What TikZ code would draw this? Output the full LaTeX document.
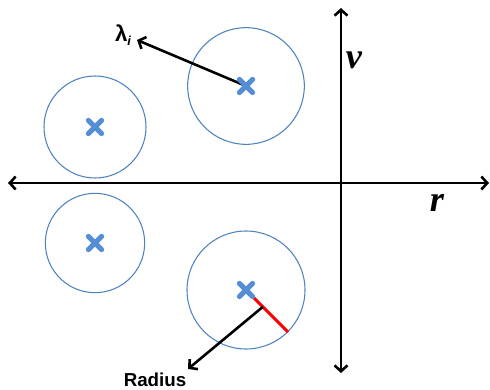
\documentclass[tikz,border=0pt]{standalone}
\usepackage{fontspec}
\setmainfont{Liberation Serif}
\setsansfont{Liberation Sans}
\usetikzlibrary{arrows.meta,shapes.misc,calc}

\definecolor{ringblue}{RGB}{79,129,189}
\definecolor{markblue}{RGB}{85,142,213}

\tikzset{
  ring/.style={circle, draw=ringblue, line width=0.9pt, inner sep=0pt},
  centremark/.style={cross out, draw=markblue, line width=4.4pt, line cap=round, minimum size=0.24cm, inner sep=0pt},
  axis/.style={line width=2.2pt, {Straight Barb[length=5pt,width=11pt]}-{Straight Barb[length=5pt,width=11pt]}},
  pointer/.style={line width=2.2pt, -{Straight Barb[length=5pt,width=11pt]}},
  axislabel/.style={font=\fontsize{31}{31}\selectfont\bfseries\itshape},
  tag/.style={font=\sffamily\bfseries\fontsize{16}{16}\selectfont, inner sep=0pt}
}

\begin{document}
\begin{tikzpicture}[x=0.03cm, y=-0.03cm]
    \useasboundingbox (0,0) rectangle (490,390);

    % Axes
    \coordinate (XL) at (8,183);
    \coordinate (XR) at (489,183);
    \coordinate (YT) at (341,8);
    \coordinate (YB) at (341,373);
    \draw[axis] (XL) -- (XR);
    \draw[axis] (YB) -- (YT);
    \node[axislabel] (V) at (354,60) {v};
    \node[axislabel] (R) at (437,203) {r};

    % Clusters
    \node[ring, minimum size=3.06cm] (C1) at (95,127) {};
    \node[ring, minimum size=2.98cm] (C2) at (95,243) {};
    \node[ring, minimum size=3.5cm] (C3) at (246,86) {};
    \node[ring, minimum size=3.54cm] (C4) at (246,290) {};

    % Radius
    \draw[red, line width=2.6pt] ($(C4)!0.18!(C4.-45)$) -- (C4.-45);
    \coordinate (TipR) at (188,369);
    \node[tag] (Rad) at (155,380) {Radius};
    \draw[pointer] ($(C4)!0.4!(C4.-45)$) -- (TipR);

    % Lambda
    \coordinate (TipL) at (137,40);
    \node[tag, font=\sffamily\bfseries\fontsize{19}{19}\selectfont] (Lam) at (123,35) {λ\raisebox{-0.35ex}{\fontsize{11}{11}\selectfont\itshape i}};
    \draw[pointer] (C3.center) -- (TipL);

    % Centres
    \node[centremark] (M1) at (C1) {};
    \node[centremark] (M2) at (C2) {};
    \node[centremark] (M3) at (C3) {};
    \node[centremark] (M4) at (C4) {};

\end{tikzpicture}
\end{document}
